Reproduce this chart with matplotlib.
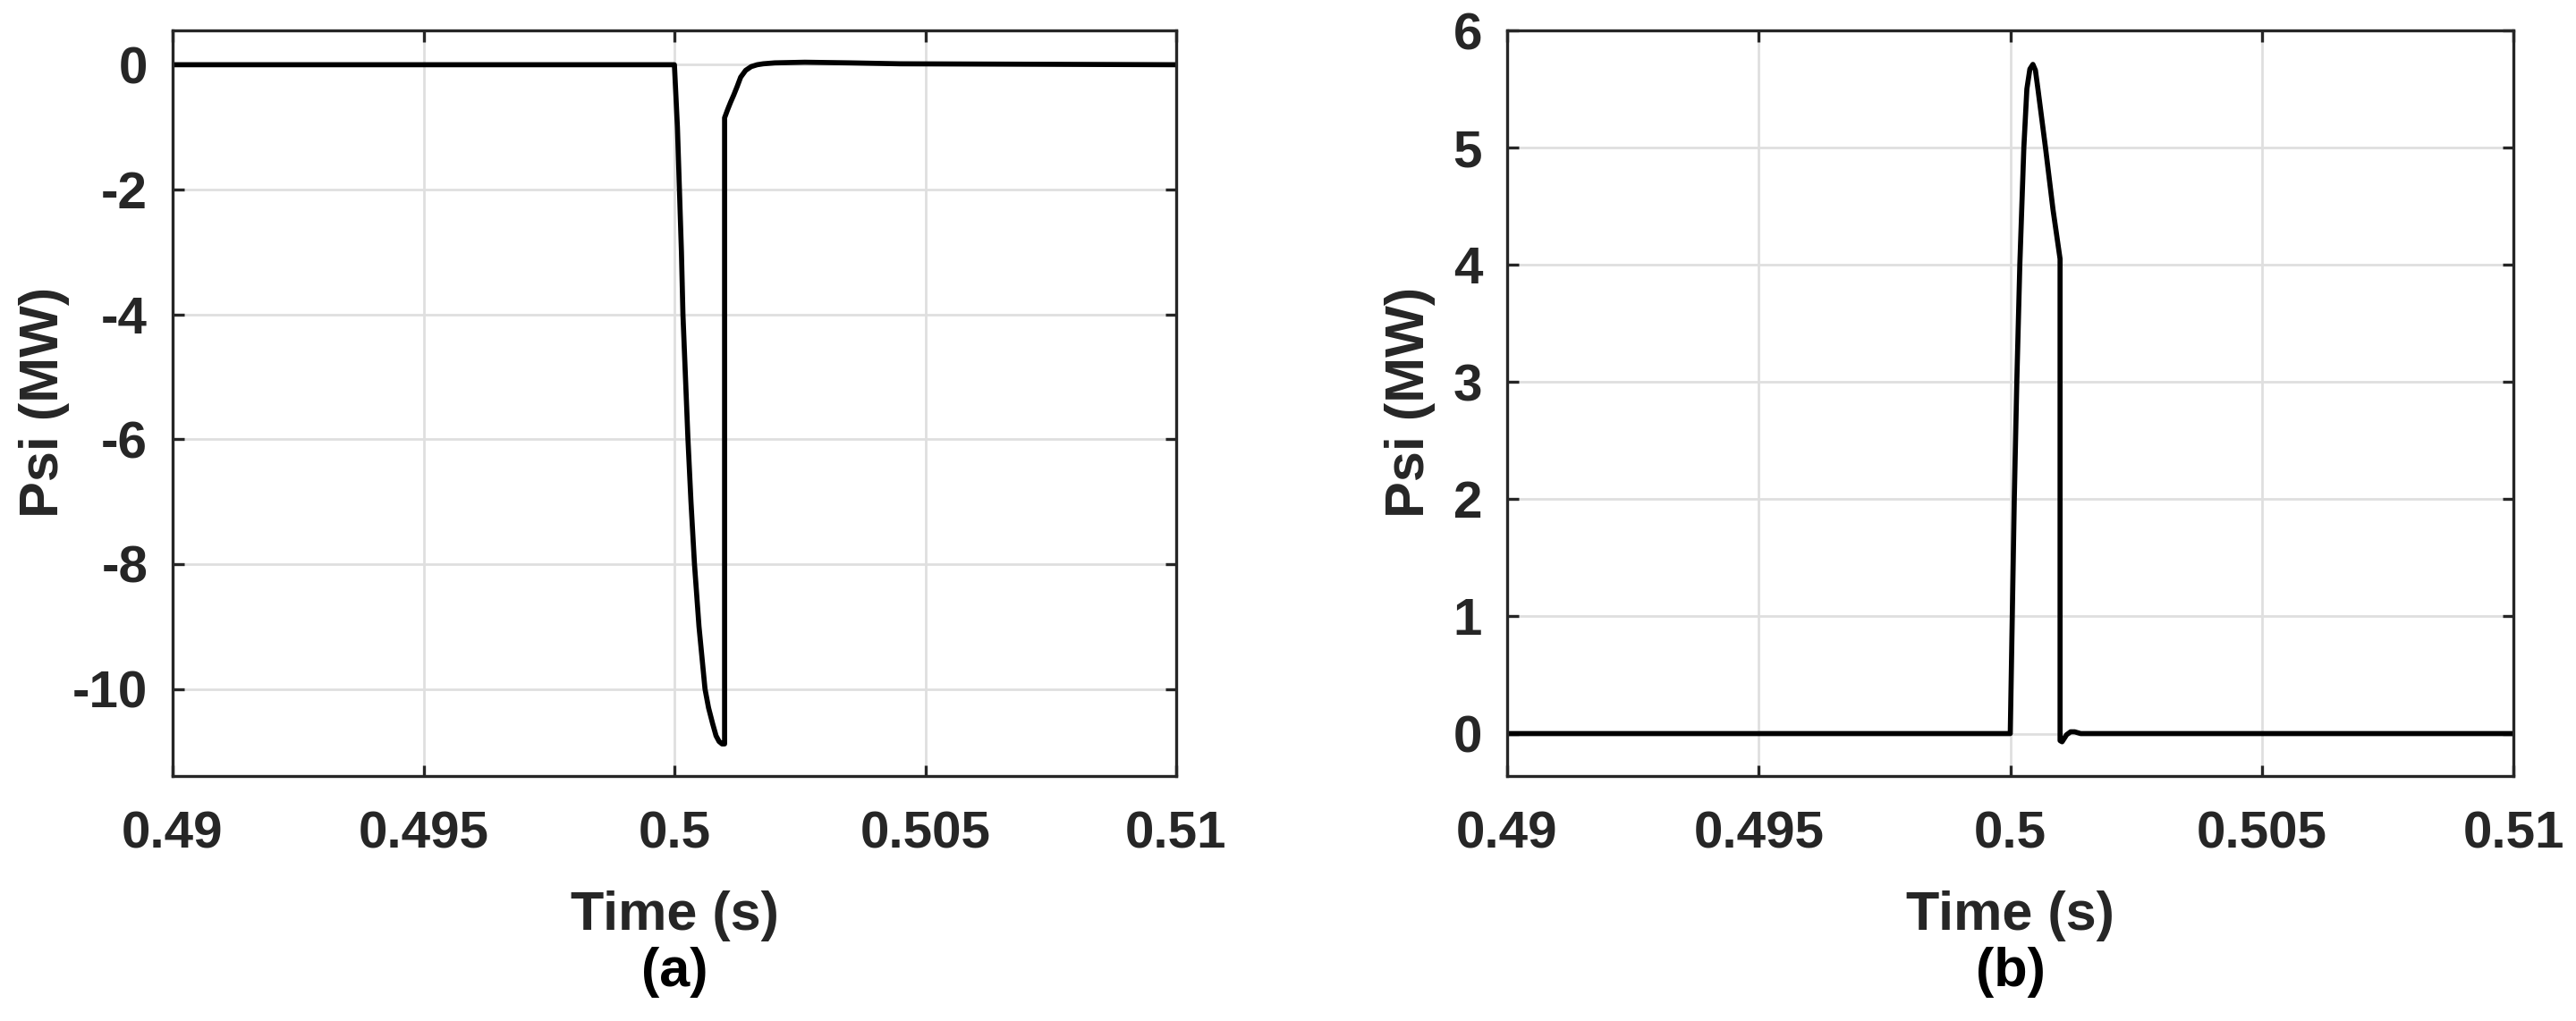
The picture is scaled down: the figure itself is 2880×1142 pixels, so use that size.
import matplotlib
matplotlib.use("Agg")
import matplotlib.pyplot as plt

plt.rcParams['font.family'] = ['Liberation Sans', 'DejaVu Sans']
plt.rcParams['font.weight'] = 'bold'
plt.rcParams['axes.unicode_minus'] = False

# ---- data (a) ----
t_a = [0.49, 0.5, 0.50006, 0.50010, 0.50014, 0.50017, 0.50022, 0.50027, 0.50033,
       0.50040, 0.50049, 0.50055, 0.50061, 0.50068, 0.50076, 0.50083, 0.50089,
       0.50095, 0.501, 0.501, 0.50106, 0.50112, 0.50118, 0.50125,
       0.50132, 0.50142, 0.50153, 0.50165, 0.50177, 0.5020, 0.5026, 0.5035, 0.5045, 0.51]
v_a = [0, 0, -1, -2, -3, -4, -5, -6, -7,
       -8, -9, -9.5, -10, -10.3, -10.55, -10.75, -10.84,
       -10.88, -10.88, -0.85, -0.72, -0.60, -0.49, -0.35,
       -0.20, -0.09, -0.03, 0.0, 0.015, 0.03, 0.04, 0.03, 0.015, 0.0]

# ---- data (b) ----
t_b = [0.49, 0.5, 0.50004, 0.50008, 0.50013, 0.50019, 0.50027, 0.50033, 0.50039,
       0.50045, 0.50050, 0.50055, 0.50070, 0.50085, 0.50099, 0.50099, 0.50103,
       0.50112, 0.50120, 0.50128, 0.50140, 0.51]
v_b = [0, 0, 1, 2, 3, 4, 5, 5.5, 5.67,
       5.71, 5.66, 5.5, 5.0, 4.47, 4.05, -0.06, -0.07,
       -0.01, 0.015, 0.015, 0.0, 0.0]

xticks = [0.49, 0.495, 0.5, 0.505, 0.51]
xticklabels = ['0.49', '0.495', '0.5', '0.505', '0.51']
yticks_a = [-10, -8, -6, -4, -2, 0]
yticks_b = [0, 1, 2, 3, 4, 5, 6]
ylim_a = (-11.39, 0.55)
ylim_b = (-0.36, 6.0)
xlabel = 'Time (s)'
ylabel = 'Psi (MW)'
panel_labels = ['(a)', '(b)']

W, H = 2880, 1142
fig = plt.figure(figsize=(W / 100, H / 100), dpi=100)

TXT = '#262626'
axes_px = [(193, 1315), (1685, 2810)]
top_px, bot_px = 34, 867.7
ylabel_x = [50, 1576]

series = [(t_a, v_a, yticks_a, ylim_a), (t_b, v_b, yticks_b, ylim_b)]

for i, ((x0, x1), (t, v, yt, yl)) in enumerate(zip(axes_px, series)):
    ax = fig.add_axes([x0 / W, 1 - bot_px / H, (x1 - x0) / W, (bot_px - top_px) / H])
    ax.plot(t, v, color='black', lw=4.1, solid_joinstyle='round', zorder=3)
    ax.set_xlim(0.49, 0.51)
    ax.set_ylim(*yl)
    ax.set_xticks(xticks)
    ax.set_xticklabels(xticklabels)
    ax.set_yticks(yt)
    ax.set_yticklabels([str(y) for y in yt])
    ax.grid(True, color='#dfdfdf', lw=2.0, zorder=0)
    ax.set_axisbelow(True)
    for s in ax.spines.values():
        s.set_color(TXT)
        s.set_linewidth(2.4)
        s.set_zorder(4)
    ax.tick_params(direction='in', length=9, width=2.4, color=TXT,
                   labelcolor=TXT, labelsize=42, top=True, right=True)
    ax.tick_params(axis='x', pad=28)
    ax.tick_params(axis='y', pad=20)
    for lab in ax.get_xticklabels() + ax.get_yticklabels():
        lab.set_fontweight('bold')
    xc = (x0 + x1) / 2 / W
    fig.text(xc, 1 - 1040 / H, xlabel, ha='center', va='baseline',
             fontsize=44, fontweight='bold', color=TXT)
    fig.text(xc, 1 - 1103 / H, panel_labels[i], ha='center', va='baseline',
             fontsize=44, fontweight='bold', color='black')
    fig.text(ylabel_x[i] / W, 1 - 450 / H, ylabel, rotation=90, ha='center',
             va='center', fontsize=44, fontweight='bold', color=TXT)

fig.savefig('out.png', dpi=100, facecolor='white')
